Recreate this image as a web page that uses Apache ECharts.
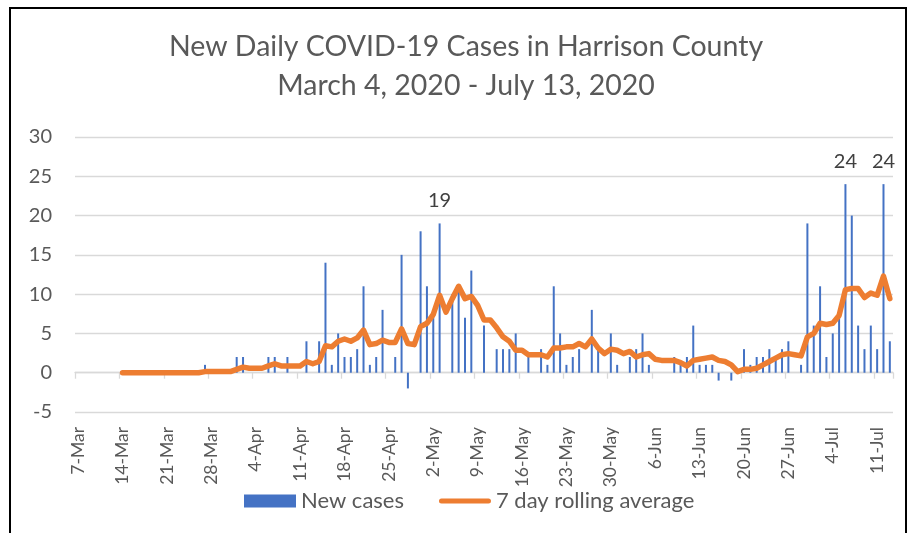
<!DOCTYPE html>
<html>
<head>
<meta charset="utf-8">
<script src="https://cdn.jsdelivr.net/npm/echarts@6/dist/echarts.min.js"></script>
<style>
html,body{margin:0;padding:0;background:#fff;}
#c{width:910px;height:533px;}
</style>
</head>
<body>
<div id="c"></div>
<script>
var dates = [
'7-Mar','8-Mar','9-Mar','10-Mar','11-Mar','12-Mar','13-Mar','14-Mar','15-Mar','16-Mar','17-Mar','18-Mar','19-Mar','20-Mar','21-Mar','22-Mar','23-Mar','24-Mar','25-Mar','26-Mar','27-Mar','28-Mar','29-Mar','30-Mar','31-Mar',
'1-Apr','2-Apr','3-Apr','4-Apr','5-Apr','6-Apr','7-Apr','8-Apr','9-Apr','10-Apr','11-Apr','12-Apr','13-Apr','14-Apr','15-Apr','16-Apr','17-Apr','18-Apr','19-Apr','20-Apr','21-Apr','22-Apr','23-Apr','24-Apr','25-Apr','26-Apr','27-Apr','28-Apr','29-Apr','30-Apr',
'1-May','2-May','3-May','4-May','5-May','6-May','7-May','8-May','9-May','10-May','11-May','12-May','13-May','14-May','15-May','16-May','17-May','18-May','19-May','20-May','21-May','22-May','23-May','24-May','25-May','26-May','27-May','28-May','29-May','30-May','31-May',
'1-Jun','2-Jun','3-Jun','4-Jun','5-Jun','6-Jun','7-Jun','8-Jun','9-Jun','10-Jun','11-Jun','12-Jun','13-Jun','14-Jun','15-Jun','16-Jun','17-Jun','18-Jun','19-Jun','20-Jun','21-Jun','22-Jun','23-Jun','24-Jun','25-Jun','26-Jun','27-Jun','28-Jun','29-Jun','30-Jun',
'1-Jul','2-Jul','3-Jul','4-Jul','5-Jul','6-Jul','7-Jul','8-Jul','9-Jul','10-Jul','11-Jul','12-Jul','13-Jul'
];

var newCases = [
0,0,0,0,0,0,0,0,0,0,0,0,0,0,0,0,0,0,0,0,1,0,0,0,0,
2,2,0,0,0,2,2,0,2,0,0,4,0,4,14,1,5,2,2,3,11,1,2,8,0,2,15,-2,0,18,
11,8,19,0,10,11,7,13,0,6,0,3,3,3,5,0,2,0,3,1,11,5,1,2,3,0,8,3,0,5,1,
0,2,3,5,1,0,0,0,2,1,2,6,1,1,1,-1,0,-1,0,3,1,2,2,3,2,3,4,0,1,19,
6,11,2,5,7,24,20,6,3,6,3,24,4
];

var rollingAvg = [
null,null,null,null,null,null,null,0,0,0,0,0,0,0,0,0,0,0,0,0,0.14,0.14,0.14,0.14,0.14,
0.43,0.71,0.57,0.57,0.57,0.86,1.14,0.86,0.86,0.86,0.86,1.43,1.14,1.43,3.43,3.29,4.0,4.29,4.0,4.43,5.43,3.57,3.71,4.14,3.86,3.86,5.57,3.71,3.57,5.86,
6.29,7.43,9.86,7.71,9.43,11.0,9.43,9.71,8.57,6.71,6.71,5.71,4.57,4.0,2.86,2.86,2.29,2.29,2.29,2.0,3.14,3.14,3.29,3.29,3.71,3.29,4.29,3.14,2.43,3.0,2.86,
2.43,2.71,2.0,2.29,2.43,1.71,1.57,1.57,1.57,1.29,0.86,1.57,1.71,1.86,2.0,1.57,1.43,1.0,0.14,0.43,0.43,0.57,1.0,1.43,1.86,2.29,2.43,2.29,2.14,4.57,
5.0,6.29,6.14,6.29,7.29,10.57,10.71,10.71,9.57,10.14,9.86,12.29,9.43
];

var labeledDates = ['3-May','6-Jul','12-Jul'];
var titleLines = ['New Daily COVID-19 Cases in Harrison County', 'March 4, 2020 - July 13, 2020'];
var seriesNames = ['New cases', '7 day rolling average'];

var FONT = 'Lato';
var LINE_ICON = 'path://M0,0 M52,13 M2.5,4 L49.5,4 A2.5,2.5 0 0 1 49.5,9 L2.5,9 A2.5,2.5 0 0 1 2.5,4 Z';
var chart = echarts.init(document.getElementById('c'), null, {renderer: 'canvas'});
chart.setOption({
  animation: false,
  backgroundColor: '#ffffff',
  textStyle: {fontFamily: FONT},
  title: {
    text: titleLines.join('\n'),
    left: 461, top: 22, textAlign: 'center',
    textStyle: {fontFamily: FONT, fontSize: 28.5, fontWeight: 'normal', color: '#595959', lineHeight: 39}
  },
  graphic: [{
    type: 'rect', silent: true,
    shape: {x: 10, y: 8, width: 896, height: 540},
    style: {fill: 'none', stroke: '#000', lineWidth: 2}
  }],
  legend: {
    left: 244, top: 490, padding: 0,
    itemWidth: 52, itemHeight: 13, itemGap: 35,
    textStyle: {fontFamily: FONT, fontSize: 22, color: '#595959'},
    data: [
      {name: seriesNames[0], icon: 'rect'},
      {name: seriesNames[1], icon: LINE_ICON, itemStyle: {color: '#ED7D31', borderWidth: 0}, lineStyle: {width: 0}}
    ]
  },
  grid: {left: 75, right: 17, top: 137, bottom: 121, containLabel: false},
  xAxis: {
    type: 'category', data: dates, boundaryGap: true,
    axisLine: {onZero: true, lineStyle: {color: '#d9d9d9', width: 1.3}},
    axisTick: {show: true, interval: 6, length: 6, alignWithLabel: false, lineStyle: {color: '#d9d9d9', width: 1.3}},
    axisLabel: {interval: 6, rotate: 90, margin: 15, fontFamily: FONT, fontSize: 17.5, color: '#595959'},
    splitLine: {show: false}
  },
  yAxis: {
    type: 'value', min: -5, max: 30, interval: 5,
    axisLine: {show: false}, axisTick: {show: false},
    axisLabel: {margin: 23, fontFamily: FONT, fontSize: 20, color: '#595959'},
    splitLine: {lineStyle: {color: '#d9d9d9', width: 1.3}}
  },
  series: [{
    name: seriesNames[0], type: 'bar', data: newCases, barWidth: 2,
    itemStyle: {color: '#4472C4'},
    label: {
      show: true, position: 'top', distance: 13,
      fontFamily: FONT, fontSize: 20, color: '#404040',
      formatter: function (p) { return labeledDates.indexOf(p.name) >= 0 ? String(p.value) : ''; }
    },
    z: 2
  }, {
    name: seriesNames[1], type: 'line', data: rollingAvg,
    symbol: 'none', showSymbol: false, connectNulls: false,
    lineStyle: {color: '#ED7D31', width: 5.5, cap: 'round', join: 'round'},
    itemStyle: {color: '#ED7D31'},
    z: 3
  }]
});
</script>
</body>
</html>
